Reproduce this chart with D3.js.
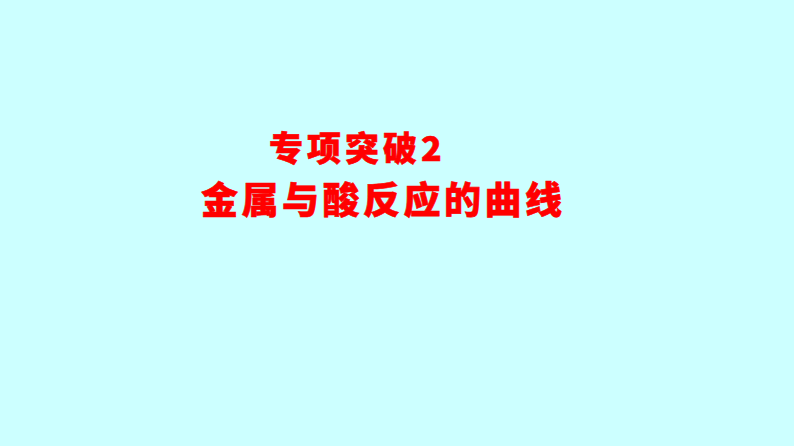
<!DOCTYPE html>
<html><head><meta charset="utf-8">
<script src="https://cdn.jsdelivr.net/npm/d3@7"></script>
<style>html,body{margin:0;padding:0;background:#CCFFFF;overflow:hidden}</style>
</head><body>
<script>
const titleLines = ["专项突破2", "金属与酸反应的曲线"];
const lineX = [269, 201];
const lineY = [161, 214];
const lineSize = [34, 37];
const lineSpacing = [4, 3.5];

const svg = d3.select("body").append("svg").attr("width", 794).attr("height", 446);
svg.append("rect").attr("width", 794).attr("height", 446).attr("fill", "#CCFFFF");
svg.selectAll("text.t").data(titleLines).join("text")
  .attr("class", "t")
  .attr("x", (d, i) => lineX[i])
  .attr("y", (d, i) => lineY[i])
  .attr("font-family", "'Noto Sans CJK SC', sans-serif")
  .attr("font-weight", "900")
  .attr("font-size", (d, i) => lineSize[i])
  .attr("letter-spacing", (d, i) => lineSpacing[i])
  .attr("fill", "#FF0000")
  .attr("stroke", "#FF0000")
  .attr("stroke-width", 0.6)
  .text(d => d);
</script>
</body></html>
